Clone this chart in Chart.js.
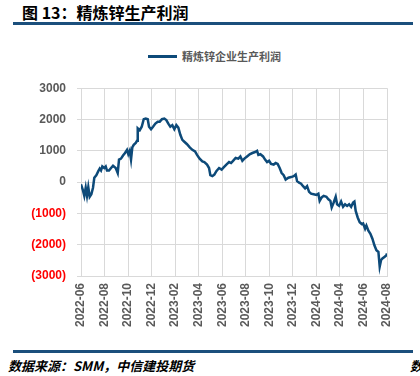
<!DOCTYPE html>
<html>
<head>
<meta charset="utf-8">
<script src="https://cdn.jsdelivr.net/npm/chart.js@4"></script>
<style>
  html, body { margin: 0; padding: 0; background: #fff; }
  body { width: 420px; height: 376px; position: relative; overflow: hidden; font-family: "Noto Sans CJK SC", "Liberation Sans", sans-serif; }
  .title { position: absolute; left: 22px; top: 2px; font-size: 16px; font-weight: bold; color: #000; line-height: 20px; white-space: nowrap; }
  .rule { position: absolute; left: 13px; width: 400px; height: 3px; background: #1b4f7c; }
  .legend { position: absolute; top: 47px; left: 148px; height: 18px; display: flex; align-items: center; }
  .legend .swatch { width: 29px; height: 3px; background: #0d4a79; margin-right: 5px; }
  .legend span { font-size: 11px; font-weight: bold; color: #595959; }
  .source { position: absolute; left: 8px; top: 358px; font-size: 13px; line-height: 16px; font-style: italic; font-weight: bold; color: #000; white-space: nowrap; }
  .cut { position: absolute; left: 410px; top: 358px; font-size: 13px; line-height: 16px; font-style: italic; font-weight: bold; color: #000; }
  #wrap { position: absolute; left: 0; top: 70px; width: 420px; height: 270px; }
</style>
</head>
<body>
<div class="title">图 13：精炼锌生产利润</div>
<div class="rule" style="top:21.5px"></div>
<div class="legend"><div class="swatch"></div><span>精炼锌企业生产利润</span></div>
<div id="wrap"><canvas id="chartMain"></canvas></div>
<div class="rule" style="top:349.5px"></div>
<div class="source">数据来源：SMM，中信建投期货</div>
<div class="cut">数</div>

<script>
const tickLabels = ['2022-06', '2022-08', '2022-10', '2022-12', '2023-02', '2023-04', '2023-06',
    '2023-08', '2023-10', '2023-12', '2024-02', '2024-04', '2024-06', '2024-08'];

// months since 2022-06
const monthPos = [
    0, 0.14, 0.28, 0.40, 0.51, 0.62, 0.74, 0.88, 1.02, 1.13,
    1.30, 1.47, 1.59, 1.70, 1.81, 1.98, 2.10, 2.21, 2.38, 2.55,
    2.72, 2.95, 3.12, 3.23, 3.40, 3.57, 3.74, 3.91, 4.02, 4.14,
    4.25, 4.36, 4.48, 4.65, 4.76, 4.82, 4.99, 5.16, 5.33, 5.50,
    5.67, 5.78, 5.95, 6.12, 6.32, 6.52, 6.69, 6.88, 7.08, 7.25,
    7.42, 7.59, 7.76, 7.93, 8.10, 8.27, 8.44, 8.61, 8.78, 9.01,
    9.24, 9.46, 9.69, 9.86, 10.08, 10.31, 10.48, 10.71, 10.88, 10.99,
    11.16, 11.33, 11.50, 11.73, 11.95, 12.12, 12.35, 12.58, 12.75, 12.92,
    13.14, 13.37, 13.54, 13.71, 13.88, 14.11, 14.33, 14.56, 14.79, 14.96,
    15.07, 15.24, 15.47, 15.64, 15.81, 15.98, 16.15, 16.37, 16.54, 16.71,
    16.88, 17.05, 17.22, 17.39, 17.62, 17.85, 18.07, 18.24, 18.36, 18.53,
    18.70, 18.87, 19.04, 19.21, 19.38, 19.55, 19.77, 20.0, 20.17, 20.28,
    20.45, 20.62, 20.85, 21.02, 21.19, 21.30, 21.47, 21.64, 21.76, 21.93,
    22.10, 22.27, 22.44, 22.61, 22.78, 22.95, 23.12, 23.23, 23.34, 23.51,
    23.68, 23.85, 23.97, 24.14, 24.25, 24.42, 24.59, 24.76, 24.93, 25.10,
    25.27, 25.38, 25.50, 25.61, 25.78, 25.95, 26.0
];

const profit = [
    -70, -230, -440, -180, -440, -160, -470, -390, -180, 140,
    220, 350, 430, 370, 500, 450, 500, 370, 370, 450,
    520, 450, 290, 720, 750, 850, 930, 1030, 890, 1000,
    720, 1110, 1190, 1250, 1320, 1720, 1660, 1770, 2010, 2030,
    2010, 1770, 1690, 1770, 1870, 1930, 1930, 2010, 2030, 1980,
    1870, 1770, 1820, 1690, 1820, 1740, 1510, 1350, 1290, 1210,
    1110, 1030, 980, 870, 750, 660, 640, 560, 450, 220,
    190, 240, 350, 450, 400, 470, 560, 640, 610, 680,
    770, 750, 820, 680, 750, 820, 890, 930, 960, 1000,
    870, 890, 820, 720, 640, 680, 580, 560, 610, 580,
    450, 290, 220, 80, 140, 160, 190, 240, 30, -20,
    -50, -130, -200, -130, -310, -370, -390, -410, -370, -600,
    -490, -440, -470, -550, -600, -810, -650, -470, -710, -760,
    -620, -790, -710, -760, -710, -790, -650, -620, -920, -1130,
    -1280, -1340, -1320, -1490, -1390, -1550, -1650, -1810, -2020, -2180,
    -2230, -2700, -2490, -2440, -2390, -2340, -2280
];

const gridColor = '#d9d9d9';
const labelFont = { family: '"Liberation Sans", Arial, sans-serif', size: 12, weight: 'bold' };

new Chart(document.getElementById('chartMain'), {
    type: 'line',
    data: {
        datasets: [{
            label: '精炼锌企业生产利润',
            data: monthPos.map((m, i) => ({ x: m, y: profit[i] })),
            borderColor: '#0d4a79', borderWidth: 2.5,
            pointRadius: 0, tension: 0, fill: false
        }]
    },
    options: {
        responsive: true, maintainAspectRatio: false, animation: false,
        layout: { padding: { left: 0, right: 33, top: 15, bottom: 0 } },
        plugins: { legend: { display: false }, tooltip: { enabled: false } },
        scales: {
            x: {
                type: 'linear', min: 0, max: 26,
                afterFit: s => { s.height = 64; },
                ticks: {
                    stepSize: 2, autoSkip: false, minRotation: 90, maxRotation: 90,
                    padding: 7, color: '#595959', font: labelFont,
                    callback: v => tickLabels[v / 2]
                },
                grid: { color: gridColor, lineWidth: 1, drawTicks: false },
                border: { color: gridColor }
            },
            y: {
                min: -3000, max: 3000,
                afterFit: s => { s.width = 81; },
                ticks: {
                    stepSize: 1000, padding: 11, font: labelFont,
                    color: ctx => ctx.tick.value < 0 ? '#ff0000' : '#595959',
                    callback: v => v < 0 ? '(' + Math.abs(v) + ')' : String(v)
                },
                grid: { color: gridColor, lineWidth: 1, tickLength: 4 },
                border: { color: gridColor }
            }
        }
    }
});
</script>
</body>
</html>
